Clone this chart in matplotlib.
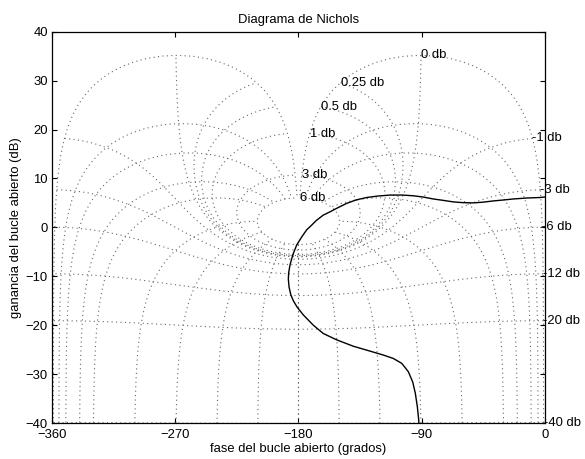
import numpy as np
import matplotlib
matplotlib.use("Agg")
import matplotlib.pyplot as plt

plt.rcParams['font.family'] = ['Liberation Sans', 'DejaVu Sans']
plt.rcParams['font.size'] = 9.4

# Nichols grid: closed-loop gains (dB) and closed-loop phases (deg)
grid_gains = [6, 3, 1, 0.5, 0.25, 0, -1, -3, -6, -12, -20, -40]
grid_phases = [-1, -5, -10, -20, -30, -60, -90, -120, -150, -180]

# open-loop curve (phase in deg, gain in dB)
ol_phase = [-0.3, -3.6, -13.0, -23.1, -30.0, -37.7, -45.0, -52.3, -60.0, -66.9,
            -74.0, -81.6, -89.0, -96.1, -104.0, -113.0, -122.0, -130.2, -138.0,
            -144.8, -151.0, -156.8, -161.9, -167.0, -170.4, -174.0, -177.5,
            -181.3, -184.2, -186.2, -187.2, -187.4, -186.9, -185.6, -183.6,
            -181.0, -176.5, -169.2, -161.9, -152.1, -140.0, -127.8, -118.1,
            -110.8, -104.6, -99.8, -96.6, -94.7, -93.2, -92.2, -92.0]
ol_gain = [6.2, 6.1, 6.0, 5.8, 5.6, 5.4, 5.15, 5.0, 5.05, 5.2,
           5.5, 5.8, 6.2, 6.45, 6.6, 6.6, 6.4, 6.1, 5.6,
           4.9, 4.05, 3.2, 2.5, 1.4, 0.45, -0.5, -1.9,
           -3.6, -5.65, -7.7, -9.3, -10.6, -12.2, -13.8, -15.1,
           -16.3, -17.9, -20.0, -21.7, -23.0, -24.3, -25.3, -26.1,
           -26.8, -27.8, -29.5, -31.6, -33.9, -36.7, -39.4, -40.5]


def open_loop(T):
    G = T / (1 - T)
    ph = np.mod(np.degrees(np.angle(G)), 360) - 360
    return ph, 20 * np.log10(np.abs(G))


fig = plt.figure(figsize=(5.85, 4.59), dpi=100)
ax = fig.add_axes([0.0889, 0.0784, 0.8427, 0.8526])

gcol = '0.4'
gls = (0, (1, 3))
glw = 0.8

# constant closed-loop gain lines
theta = np.radians(np.linspace(-1, -359, 1500))
for g in grid_gains:
    M = 10 ** (g / 20)
    ph, gn = open_loop(M * np.exp(1j * theta))
    ax.plot(ph, gn, color=gcol, ls=gls, lw=glw)
    lp, lg = open_loop(M * np.exp(1j * np.radians(-1)))
    ax.text(lp, lg, '%g db' % g, ha='left', va='center', fontsize=9.4)

# constant closed-loop phase lines
r = np.logspace(-2, np.log10(2), 1500)
for p in grid_phases:
    ph, gn = open_loop(r * np.exp(1j * np.radians(p)))
    ax.plot(ph, gn, color=gcol, ls=gls, lw=glw)
    ax.plot(-360 - ph, gn, color=gcol, ls=gls, lw=glw)

ax.plot(ol_phase, ol_gain, color='k', lw=1.0, solid_joinstyle='round')

ax.set_xlim(-360, 0)
ax.set_ylim(-40, 40)
ax.set_xticks([-360, -270, -180, -90, 0])
ax.set_yticks(range(-40, 41, 10))
ax.tick_params(direction='in', top=True, right=True, length=3.5, width=0.8)
ax.tick_params(axis='x', pad=4.5)
ax.tick_params(axis='y', pad=3)
for s in ax.spines.values():
    s.set_linewidth(0.9)

ax.set_title('Diagrama de Nichols', fontsize=9.4, pad=6)
ax.set_xlabel('fase del bucle abierto (grados)', labelpad=1)
ax.set_ylabel('ganancia del bucle abierto (dB)', labelpad=3)

fig.savefig('out.png', dpi=100)
